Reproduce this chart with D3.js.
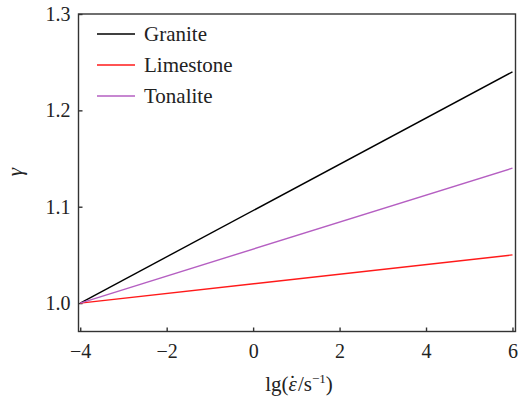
<!DOCTYPE html>
<html>
<head>
<meta charset="utf-8">
<script src="https://d3js.org/d3.v7.min.js"></script>
<style>
  body { margin: 0; background: #fff; }
  svg text { fill: #222; }
</style>
</head>
<body>
<script>
/* ---------------------------- */
/* DATA                         */
/* ---------------------------- */

const rocks = ["Granite", "Limestone", "Tonalite"];
const colors = ["#000000", "#ff1a1a", "#b55fc2"];
const strainRate = [-4, 6];          // lg(strain rate) end points
const granite = [1.0, 1.24];
const limestone = [1.0, 1.05];
const tonalite = [1.0, 1.14];
const xTicks = [-4, -2, 0, 2, 4, 6];
const yTicks = [1.0, 1.1, 1.2, 1.3];

const series = [granite, limestone, tonalite];

/* ---------------------------- */
/* CANVAS                       */
/* ---------------------------- */

const w = 520, h = 396;
let margins = {top: 14, right: 4.5, bottom: 64.5, left: 78.5};
const serif = '"Liberation Serif", "Times New Roman", serif';

let svg = d3.select("body")
    .append("svg")
        .attr("width", w)
        .attr("height", h)
        .attr("font-family", serif);

// Scales
let x = d3.scaleLinear()
    .domain([-4.04, 6.07])
    .range([margins.left, w - margins.right]);
let y = d3.scaleLinear()
    .domain([0.9705, 1.3])
    .range([h - margins.bottom, margins.top]);

// Plot frame
svg.append("rect")
    .attr("x", margins.left)
    .attr("y", margins.top)
    .attr("width", w - margins.right - margins.left)
    .attr("height", h - margins.bottom - margins.top)
    .attr("fill", "none")
    .attr("stroke", "#333")
    .attr("stroke-width", 1.4);

// Axes (ticks pointing inward)
let xAxis = svg.append("g")
    .attr("transform", "translate(0," + (h - margins.bottom) + ")")
    .call(d3.axisBottom(x).tickValues(xTicks).tickSizeInner(-4).tickSizeOuter(0)
        .tickFormat(d => d < 0 ? "\u2212" + Math.abs(d) : d));
let yAxis = svg.append("g")
    .attr("transform", "translate(" + margins.left + ",0)")
    .call(d3.axisLeft(y).tickValues(yTicks).tickSizeInner(-4).tickSizeOuter(0)
        .tickFormat(d3.format(".1f")));

[xAxis, yAxis].forEach(g => {
    g.attr("font-family", serif).attr("font-size", 20);
    g.select(".domain").remove();
    g.selectAll(".tick line").attr("stroke", "#333").attr("stroke-width", 1.4);
    g.selectAll(".tick text").attr("fill", "#222");
});
xAxis.selectAll(".tick text").attr("y", 12);
yAxis.selectAll(".tick text").attr("x", -8);

// Lines
let line = d3.line()
    .x((d, i) => x(strainRate[i]))
    .y(d => y(d));

svg.selectAll("path.series")
    .data(series)
    .enter()
    .append("path")
        .attr("class", "series")
        .attr("d", d => line(d))
        .attr("fill", "none")
        .attr("stroke", (d, i) => colors[i])
        .attr("stroke-width", 1.4);

// Legend
let legend = svg.selectAll("g.legend")
    .data(rocks)
    .enter()
    .append("g")
        .attr("class", "legend")
        .attr("transform", (d, i) => "translate(97," + (34 + i * 31) + ")");
legend.append("line")
    .attr("x1", 0).attr("x2", 38)
    .attr("stroke", (d, i) => colors[i])
    .attr("stroke-width", 1.4);
legend.append("text")
    .attr("x", 47)
    .attr("dy", "0.33em")
    .style("font-size", "21px")
    .text(d => d);

// Axis titles
let xt = svg.append("text")
    .attr("x", 299)
    .attr("y", 391)
    .attr("text-anchor", "middle")
    .style("font-size", "21px");
xt.append("tspan").text("lg(");
xt.append("tspan").style("font-style", "italic").text("\u03B5");
xt.append("tspan").attr("dx", -8).attr("dy", -1).text("\u02D9");
xt.append("tspan").attr("dx", 2).attr("dy", 1).text("/s");
xt.append("tspan").attr("dy", -8).style("font-size", "13px").text("\u22121");
xt.append("tspan").attr("dy", 8).text(")");

svg.append("text")
    .attr("transform", "translate(22,172) rotate(-90)")
    .attr("text-anchor", "middle")
    .style("font-size", "21px")
    .style("font-style", "italic")
    .text("\u03B3");
</script>
</body>
</html>
